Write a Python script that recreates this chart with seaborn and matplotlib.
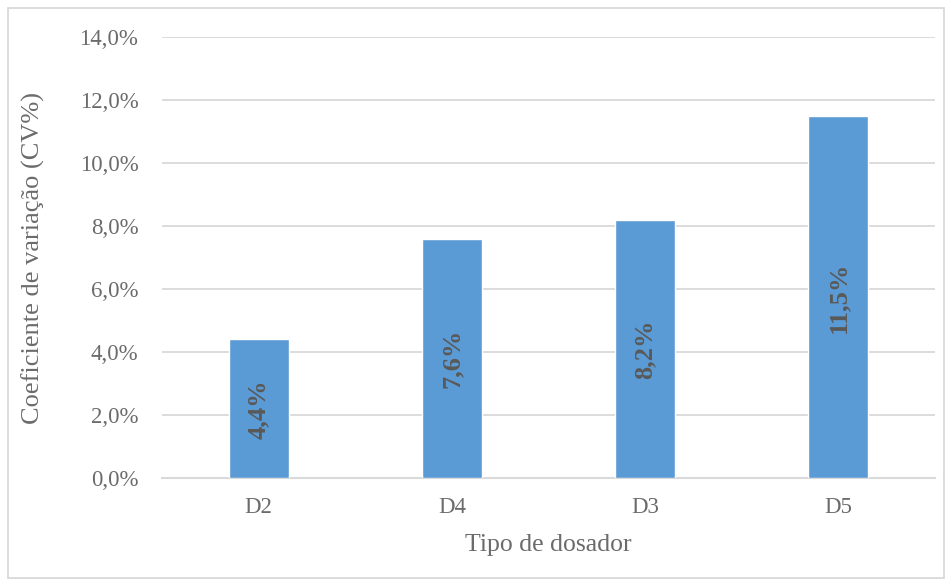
import matplotlib
matplotlib.use("Agg")
import matplotlib.pyplot as plt
import seaborn as sns
import pandas as pd
from matplotlib.patches import Rectangle

# Coefficient of variation per dispenser type
dosadores = ["D2", "D4", "D3", "D5"]
cv = [0.044, 0.076, 0.082, 0.115]
y_ticks = [0.0, 0.02, 0.04, 0.06, 0.08, 0.10, 0.12, 0.14]

sns.set_theme(style="white")
plt.rcParams["font.family"] = ["Liberation Serif", "DejaVu Serif"]

df = pd.DataFrame({"Tipo de dosador": dosadores, "CV": cv})

text_gray = "#6b6b6b"
grid_gray = "#d9d9d9"
bar_blue = "#5b9bd5"

fig = plt.figure(figsize=(9.52, 5.85), dpi=100)
ax = fig.add_axes([162 / 952, 1 - 478 / 585, (935 - 162) / 952, (478 - 37) / 585])

sns.barplot(data=df, x="Tipo de dosador", y="CV", color=bar_blue,
            saturation=1, width=0.31, ax=ax, zorder=3)

ax.set_ylim(0, 0.14)
ax.set_yticks(y_ticks)
ax.set_yticklabels([f"{t * 100:.1f}%".replace(".", ",") for t in y_ticks])
ax.yaxis.grid(True, color=grid_gray, linewidth=1.3, zorder=0)
ax.set_axisbelow(True)

for side in ["top", "right", "left"]:
    ax.spines[side].set_visible(False)
ax.spines["bottom"].set_color(grid_gray)
ax.spines["bottom"].set_linewidth(1.5)

ax.tick_params(axis="y", length=0, pad=17, labelsize=16.5, labelcolor=text_gray)
ax.tick_params(axis="x", length=0, pad=14, labelsize=16.5, labelcolor=text_gray)

ax.set_xlabel("Tipo de dosador", fontsize=18.5, color=text_gray)
ax.set_ylabel("Coeficiente de variação (CV%)", fontsize=19, color=text_gray)
ax.xaxis.set_label_coords(0.5, (478 - 545) / 441)
ax.xaxis.label.set_va("center")
ax.yaxis.set_label_coords((33 - 162) / 773, 0.5)
ax.yaxis.label.set_va("center")

# Value labels, rotated and centred inside each bar
for bar, v in zip(ax.patches, cv):
    x = bar.get_x() + bar.get_width() / 2
    ax.text(x, v / 2, f"{v * 100:.1f}%".replace(".", ","), rotation=90,
            ha="center", va="center", fontsize=19, fontweight="bold",
            color="#595959", zorder=4)

# Light frame around the whole chart
fig.patches.append(Rectangle((8 / 952, 7 / 585), 936 / 952, 570 / 585,
                             transform=fig.transFigure, fill=False,
                             edgecolor="#d9d9d9", linewidth=1.3))

fig.savefig("out.png", dpi=100, facecolor="white")
